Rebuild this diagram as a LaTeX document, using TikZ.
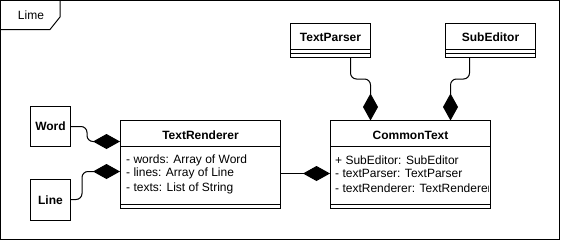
\documentclass[tikz,border=0pt]{standalone}
\usepackage{fontspec}
\setmainfont{Liberation Sans}
\usetikzlibrary{arrows.meta,positioning,calc}

\tikzset{
  every picture/.style={x=1pt,y=-1pt},
  frm/.style={draw=black,line width=1pt},
  classbox/.style={draw=black,line width=1pt,fill=white,inner sep=0pt},
  ttl/.style={font=\fontsize{12}{14}\selectfont\bfseries,inner sep=0pt},
  attr/.style={font=\fontsize{12}{14}\selectfont,inner sep=0pt,anchor=west},
  comp/.style={draw=black,line width=1pt,rounded corners=6pt,
    -{Diamond[length=27pt,width=15pt,fill=black]}},
}

\begin{document}
\begin{tikzpicture}
\useasboundingbox (0,0) rectangle (561,241);

% outer frame and its name tab
\draw[frm] (0.5,0.5) rectangle (559.5,239.5);
\draw[frm] (0.5,29.5) -- (50,29.5) -- (60,17) -- (60,0.5);
\node[attr,anchor=center] (lbl) at (31,15) {Lime};

% simple boxes
\node[classbox,minimum width=40pt,minimum height=40pt] (word) at (50.5,126.5) {};
\node[ttl] (wordt) at (word.center) {Word};
\node[classbox,minimum width=40pt,minimum height=41pt] (line) at (50.5,200) {};
\node[ttl] (linet) at (line.center) {Line};

% TextRenderer class
\node[classbox,minimum width=160pt,minimum height=88pt] (tr) at (200.5,164.5) {};
\draw[frm] (120.5,146.5) -- (280.5,146.5);
\draw[frm] (120.5,204.5) -- (280.5,204.5);
\node[ttl] (trt) at (200.5,135) {TextRenderer};
\node[attr] (tr1) at (126,160) {- words: Array of Word};
\node[attr] (tr2) at (126,173.5) {- lines: Array of Line};
\node[attr] (tr3) at (126,188) {- texts: List of String};

% CommonText class
\node[classbox,minimum width=160pt,minimum height=88pt] (ct) at (410.5,164.5) {};
\draw[frm] (330.5,146.5) -- (490.5,146.5);
\draw[frm] (330.5,204.5) -- (490.5,204.5);
\node[ttl] (ctt) at (410.5,135) {CommonText};
\begin{scope}
  \clip (331,147) rectangle (488.5,204);
  \node[attr] (ct1) at (335,160) {+ SubEditor: SubEditor};
  \node[attr] (ct2) at (335,173.5) {- textParser: TextParser};
  \node[attr] (ct3) at (335,188) {- textRenderer: TextRenderer};
\end{scope}

% TextParser class
\node[classbox,minimum width=80pt,minimum height=34pt] (tp) at (330.5,40.5) {};
\draw[frm] (290.5,49.5) -- (370.5,49.5);
\draw[frm] (290.5,53.5) -- (370.5,53.5);
\node[ttl] (tpt) at (330.5,37) {TextParser};

% SubEditor class
\node[classbox,minimum width=90pt,minimum height=34pt] (se) at (490.5,40.5) {};
\draw[frm] (445.5,49.5) -- (535.5,49.5);
\draw[frm] (445.5,53.5) -- (535.5,53.5);
\node[ttl] (set) at (490.5,37) {SubEditor};

% composition connectors
\coordinate (tpout) at (350.5,57.5);
\coordinate (seout) at (469.5,57.5);
\coordinate (ctin1) at (370.5,120.5);
\coordinate (ctin2) at (450.5,120.5);

\draw[comp] (word.east |- 0,126.5) -- (87,126.5) -- (87,141.5) -- (tr.west |- 0,141.5);
\draw[comp] (line.east |- 0,199.5) -- (82,199.5) -- (82,171.5) -- (tr.west |- 0,171.5);
\draw[comp] (tr.east |- 0,173.5) -- (ct.west |- 0,173.5);
\draw[comp] (tpout) -- (350.5,79) -- (370.5,79) -- (ctin1);
\draw[comp] (seout) -- (469.5,79) -- (450.5,79) -- (ctin2);
\end{tikzpicture}
\end{document}
